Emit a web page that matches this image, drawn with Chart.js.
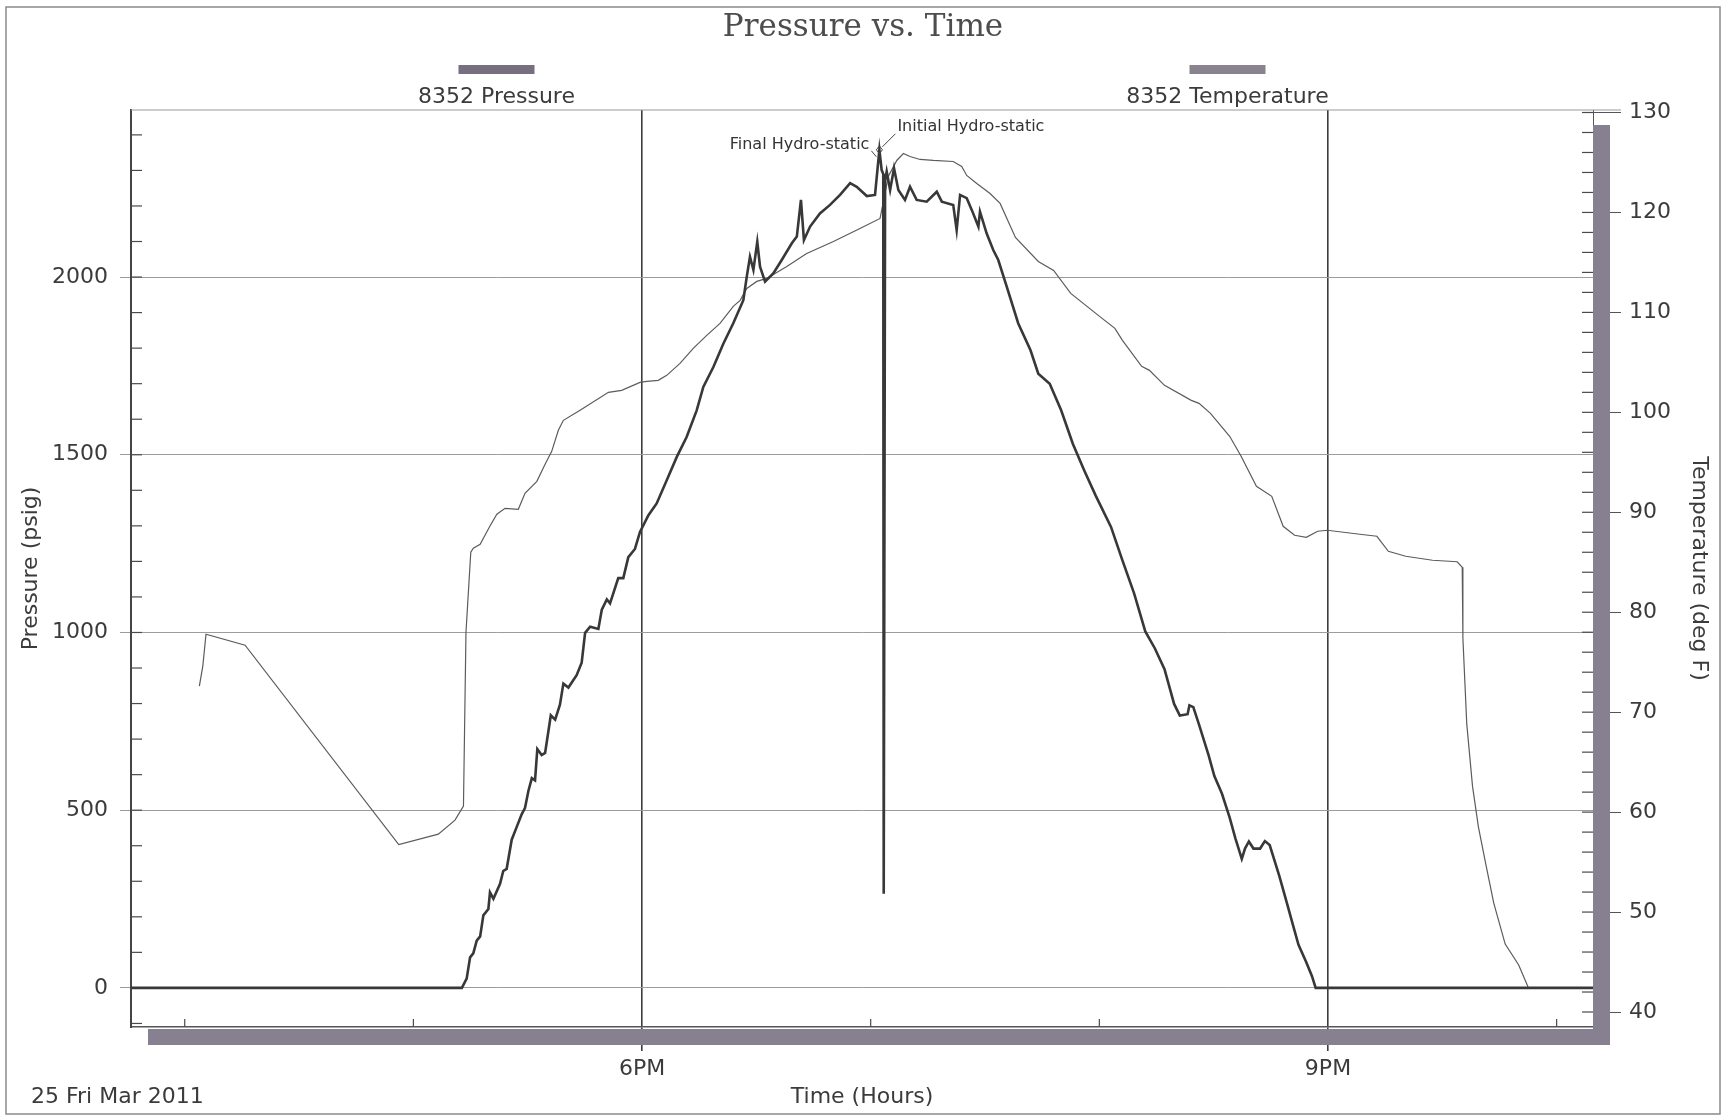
<!DOCTYPE html>
<html>
<head>
<meta charset="utf-8">
<title>Pressure vs. Time</title>
<script src="https://cdn.jsdelivr.net/npm/chart.js@4.4.1/dist/chart.umd.min.js"></script>
<style>
  html, body { margin: 0; padding: 0; background: #fff; }
  canvas { display: block; }
</style>
</head>
<body>
<canvas id="pt-chart" width="1726" height="1120"></canvas>
<script>
// times are hours of the day (decimal)
var pressureTime = [
  15.765, 17.212, 17.233, 17.248, 17.262, 17.277, 17.292, 17.306, 17.328, 17.335,
  17.350, 17.379, 17.393, 17.408, 17.430, 17.452, 17.474, 17.488, 17.503, 17.518,
  17.532, 17.542, 17.561, 17.576, 17.590, 17.601, 17.620, 17.641, 17.656, 17.678,
  17.714, 17.736, 17.751, 17.773, 17.809, 17.824, 17.846, 17.860, 17.896, 17.918,
  17.940, 17.969, 17.991, 18.028, 18.064, 18.108, 18.152, 18.195, 18.239, 18.268,
  18.312, 18.356, 18.399, 18.443, 18.458, 18.472, 18.487, 18.504, 18.516, 18.538,
  18.574, 18.611, 18.655, 18.677, 18.695, 18.708, 18.735, 18.778, 18.822, 18.866,
  18.910, 18.939, 18.983, 19.019, 19.038, 19.048, 19.055, 19.057, 19.063, 19.070,
  19.085, 19.102, 19.121, 19.150, 19.172, 19.201, 19.245, 19.289, 19.311, 19.361,
  19.376, 19.391, 19.420, 19.442, 19.471, 19.478, 19.507, 19.536, 19.558, 19.595,
  19.645, 19.699, 19.733, 19.783, 19.833, 19.884, 19.934, 19.984, 20.051, 20.101,
  20.152, 20.201, 20.243, 20.285, 20.327, 20.352, 20.386, 20.394, 20.411, 20.436,
  20.478, 20.503, 20.536, 20.570, 20.595, 20.623, 20.637, 20.654, 20.674, 20.703,
  20.724, 20.745, 20.787, 20.821, 20.846, 20.871, 20.905, 20.930, 20.946, 22.159
];
var pressureValue = [
  0, 0, 26, 86, 97, 133, 145, 204, 222, 269,
  251, 293, 329, 335, 417, 453, 489, 506, 554, 590,
  584, 672, 655, 661, 720, 767, 755, 797, 856, 845,
  880, 915, 999, 1016, 1010, 1064, 1093, 1082, 1153, 1153,
  1212, 1235, 1283, 1330, 1363, 1428, 1494, 1550, 1625, 1691,
  1747, 1813, 1870, 1935, 2001, 2057, 2020, 2099, 2029, 1987,
  2010, 2048, 2095, 2114, 2217, 2104, 2142, 2179, 2203, 2231,
  2264, 2254, 2228, 2231, 2358, 2301, 2290, 265, 2270, 2297,
  2245, 2306, 2245, 2217, 2254, 2217, 2212, 2240, 2212, 2203,
  2132, 2231, 2222, 2189, 2142, 2184, 2123, 2076, 2048, 1973,
  1870, 1794, 1728, 1700, 1625, 1531, 1456, 1385, 1297, 1203,
  1110, 1003, 955, 897, 799, 766, 770, 795, 790, 741,
  654, 596, 547, 479, 421, 363, 392, 412, 392, 392,
  413, 402, 315, 237, 179, 121, 72, 33, 0, 0
];

var temperatureTime = [
  16.064, 16.079, 16.093, 16.264, 16.936, 17.109, 17.182, 17.219, 17.230, 17.251,
  17.262, 17.292, 17.332, 17.365, 17.401, 17.459, 17.488, 17.540, 17.576, 17.605,
  17.634, 17.656, 17.729, 17.853, 17.911, 17.991, 18.021, 18.071, 18.108, 18.166,
  18.224, 18.283, 18.341, 18.399, 18.429, 18.458, 18.502, 18.545, 18.633, 18.720,
  18.837, 18.953, 19.041, 19.077, 19.114, 19.143, 19.172, 19.216, 19.274, 19.361,
  19.398, 19.420, 19.464, 19.522, 19.566, 19.633, 19.733, 19.800, 19.875, 20.001,
  20.068, 20.101, 20.185, 20.219, 20.285, 20.402, 20.436, 20.486, 20.570, 20.620,
  20.687, 20.754, 20.804, 20.854, 20.905, 20.955, 20.997, 21.139, 21.214, 21.264,
  21.340, 21.457, 21.565, 21.587, 21.590, 21.607, 21.632, 21.658, 21.691, 21.725,
  21.775, 21.834, 21.875
];
var temperatureValue = [
  72.6, 74.6, 77.8, 76.7, 56.75, 57.8, 59.2, 60.6, 78.0, 86.0,
  86.4, 86.8, 88.5, 89.8, 90.4, 90.3, 91.9, 93.1, 94.8, 96.1,
  98.2, 99.2, 100.2, 102.0, 102.2, 103.0, 103.1, 103.2, 103.7, 104.9,
  106.4, 107.7, 108.9, 110.6, 111.2, 112.4, 113.1, 113.4, 114.6, 115.9,
  117.1, 118.4, 119.4, 123.6, 125.2, 125.9, 125.6, 125.3, 125.2, 125.1,
  124.6, 123.7, 122.9, 121.9, 120.9, 117.5, 115.1, 114.2, 111.9, 109.6,
  108.4, 107.2, 104.6, 104.2, 102.7, 101.2, 100.9, 99.9, 97.6, 95.6,
  92.6, 91.6, 88.6, 87.7, 87.5, 88.1, 88.2, 87.8, 87.6, 86.1,
  85.6, 85.2, 85.05, 84.5, 77.4, 68.8, 62.6, 58.5, 54.7, 50.9,
  46.8, 44.7, 42.5
];

var hourTicks = [16, 17, 18, 19, 20, 21, 22];
var hourLabels = ['', '', '6PM', '', '', '9PM', ''];
var pressureTicks = [0, 500, 1000, 1500, 2000];
var temperatureTicks = [40, 50, 60, 70, 80, 90, 100, 110, 120, 130];
var timeRange = [15.765, 22.159];
var pressureRange = [-110, 2470];
var temperatureRange = [38.5, 130.25];
var seriesNames = ['8352 Pressure', '8352 Temperature'];
var peak = { time: 19.038, value: 2358 };

var ink = '#3b3b3b';
var font22 = { family: 'DejaVu Sans', size: 22 };
var swatchColors = ['#776f80', '#88838e'];

function points(xs, ys) {
  return xs.map(function (x, i) { return { x: x, y: ys[i] }; });
}

function tickList(values) {
  return function (s) {
    s.ticks = values.map(function (v) { return { value: v }; });
  };
}

function line(c, x1, y1, x2, y2) {
  c.beginPath();
  c.moveTo(x1, y1);
  c.lineTo(x2, y2);
  c.stroke();
}

function hourLabel(v) {
  var i = hourTicks.indexOf(v);
  return i < 0 ? '' : hourLabels[i];
}

function isLabelled(v) {
  return hourLabel(v) !== '';
}

// background, frame bits, minor ticks, legend and notes
var decor = {
  id: 'decor',
  beforeDraw: function (chart) {
    var c = chart.ctx;
    c.save();
    c.fillStyle = '#fff';
    c.fillRect(0, 0, chart.width, chart.height);
    c.strokeStyle = '#8a8a8a';
    c.lineWidth = 1.5;
    c.strokeRect(6, 7, chart.width - 12, chart.height - 13);
    c.restore();
  },
  beforeDatasetsDraw: function (chart) {
    var c = chart.ctx, a = chart.chartArea;
    var xs = chart.scales.x, ys = chart.scales.y, ts = chart.scales.y1;
    c.save();
    c.strokeStyle = '#9a9a9a';
    c.lineWidth = 1;
    line(c, a.left, a.top, a.right + 28, a.top);

    c.strokeStyle = '#4a4a4a';
    c.lineWidth = 1.2;
    for (var p = -100; p <= 2400; p += 100) {
      var py = ys.getPixelForValue(p);
      line(c, a.left, py, a.left + 11, py);
    }
    for (var t = 40; t <= 130; t += 2) {
      var ty = ts.getPixelForValue(t);
      line(c, a.right, ty, a.right - 11, ty);
    }
    hourTicks.forEach(function (h) {
      if (!isLabelled(h)) {
        var hx = xs.getPixelForValue(h);
        line(c, hx, a.bottom, hx, a.bottom - 8);
      }
    });

    // thick "depth" bars under the x axis and beside the right axis
    c.fillStyle = '#878090';
    c.fillRect(a.left + 17, a.bottom + 2, a.right - a.left, 16);
    c.fillRect(a.right, a.top + 15, 17, a.bottom - a.top + 3);
    c.restore();
  },
  afterDatasetsDraw: function (chart) {
    var c = chart.ctx, a = chart.chartArea;
    var xs = chart.scales.x, ys = chart.scales.y;
    c.save();

    // legend: swatch above the name, centred on the quarters of the plot
    c.font = '22px "DejaVu Sans"';
    c.textAlign = 'center';
    c.textBaseline = 'middle';
    chart.data.datasets.forEach(function (ds, i) {
      var cx = a.left + (a.right - a.left) * (2 * i + 1) / 4;
      c.fillStyle = swatchColors[i];
      c.fillRect(cx - 38, 65, 76, 9);
      c.fillStyle = ink;
      c.fillText(ds.label, cx, 97);
    });

    // hydro-static marks
    var px = xs.getPixelForValue(peak.time), py = ys.getPixelForValue(peak.value);
    c.strokeStyle = '#444';
    c.lineWidth = 1;
    c.beginPath();
    c.moveTo(px, py - 4);
    c.lineTo(px + 3, py);
    c.lineTo(px, py + 4);
    c.lineTo(px - 3, py);
    c.closePath();
    c.stroke();
    line(c, px + 16, py - 16, px + 3, py - 3);
    line(c, px - 8, py + 1, px - 3, py + 7);

    c.fillStyle = '#333';
    c.font = '16px "DejaVu Sans"';
    c.textAlign = 'right';
    c.fillText('Final Hydro-static', px - 10, py - 5);
    c.textAlign = 'left';
    c.fillText('Initial Hydro-static', px + 18, py - 23);

    // date stamp
    c.fillStyle = ink;
    c.font = '22px "DejaVu Sans"';
    c.fillText('25 Fri Mar 2011', 31, 1097);
    c.restore();
  }
};

var ctx = document.getElementById('pt-chart').getContext('2d');

var chart = new Chart(ctx, {
  type: 'line',
  data: {
    datasets: [{
      label: seriesNames[0],
      data: points(pressureTime, pressureValue),
      yAxisID: 'y',
      borderColor: '#383838',
      borderWidth: 2.6,
      pointRadius: 0,
      tension: 0,
      fill: false
    }, {
      label: seriesNames[1],
      data: points(temperatureTime, temperatureValue),
      yAxisID: 'y1',
      borderColor: '#5c5c5c',
      borderWidth: 1.2,
      pointRadius: 0,
      tension: 0,
      fill: false
    }]
  },
  options: {
    responsive: false,
    animation: false,
    devicePixelRatio: 1,
    layout: { padding: 0 },
    plugins: {
      legend: { display: false },
      tooltip: { enabled: false },
      title: {
        display: true,
        text: 'Pressure vs. Time',
        color: '#4d4d4d',
        font: { family: 'DejaVu Serif', size: 31, weight: 'normal', lineHeight: 1.2 },
        padding: { top: 9, bottom: 63.8 }
      }
    },
    scales: {
      x: {
        type: 'linear',
        position: 'bottom',
        min: timeRange[0],
        max: timeRange[1],
        afterFit: function (s) { s.height = 93; },
        afterBuildTicks: tickList(hourTicks),
        ticks: {
          autoSkip: false,
          maxRotation: 0,
          padding: 5,
          color: ink,
          font: font22,
          callback: function (v) { return hourLabel(v); }
        },
        grid: {
          color: function (c) { return c.tick && isLabelled(c.tick.value) ? '#3c3c3c' : 'rgba(0,0,0,0)'; },
          tickColor: function (c) { return c.tick && isLabelled(c.tick.value) ? '#3c3c3c' : 'rgba(0,0,0,0)'; },
          lineWidth: 1.6,
          tickLength: 24
        },
        border: { display: true, color: '#555', width: 1.5 },
        title: {
          display: true,
          text: 'Time (Hours)',
          color: ink,
          font: font22,
          padding: { top: 0, bottom: 10 }
        }
      },
      y: {
        type: 'linear',
        position: 'left',
        min: pressureRange[0],
        max: pressureRange[1],
        afterFit: function (s) { s.width = 131; },
        afterBuildTicks: tickList(pressureTicks),
        ticks: {
          autoSkip: false,
          padding: 12,
          color: ink,
          font: font22,
          callback: function (v) { return String(v); }
        },
        grid: {
          color: '#9c9c9c',
          tickColor: '#9c9c9c',
          lineWidth: 1,
          tickLength: 11
        },
        border: { display: true, color: '#444', width: 2 },
        title: {
          display: true,
          text: 'Pressure (psig)',
          color: ink,
          font: font22,
          padding: { top: 18, bottom: 0 }
        }
      },
      y1: {
        type: 'linear',
        position: 'right',
        min: temperatureRange[0],
        max: temperatureRange[1],
        afterFit: function (s) { s.width = 133; },
        afterBuildTicks: tickList(temperatureTicks),
        ticks: {
          autoSkip: false,
          padding: 8,
          color: ink,
          font: font22,
          callback: function (v) { return String(v); }
        },
        grid: {
          drawOnChartArea: false,
          color: '#555',
          tickColor: '#555',
          tickLength: 28
        },
        border: { display: true, color: '#555', width: 1 },
        title: {
          display: true,
          text: 'Temperature (deg F)',
          color: ink,
          font: font22,
          padding: { top: 14, bottom: 0 }
        }
      }
    }
  },
  plugins: [decor]
});
</script>
</body>
</html>
